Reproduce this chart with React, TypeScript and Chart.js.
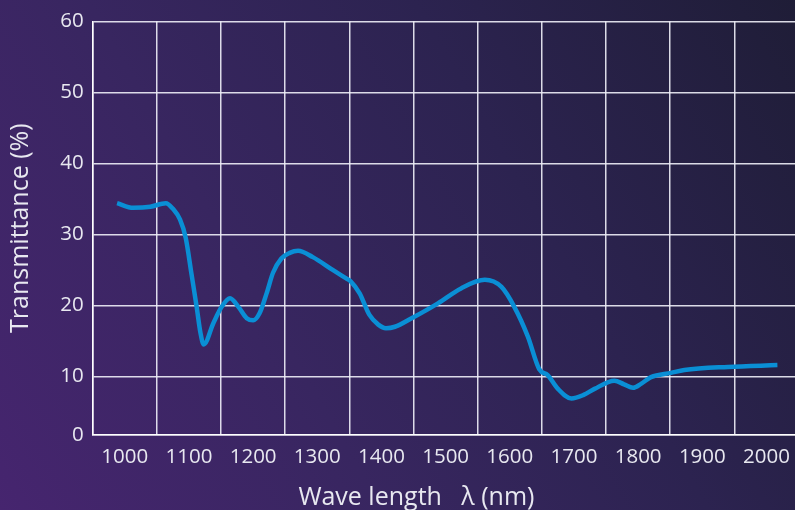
import React, { useEffect, useRef } from "react";
import { Chart, registerables } from "chart.js";

Chart.register(...registerables);

// Wavelength (nm) sample points
const wavelengths = [
  988, 1013, 1040, 1064, 1075, 1086, 1095, 1104, 1112, 1118, 1123,
  1138, 1151, 1164, 1177, 1190, 1200, 1210, 1221, 1231, 1244, 1257,
  1270, 1293, 1324, 1345, 1352, 1366, 1381, 1395, 1407, 1421, 1447,
  1488, 1524, 1561, 1587, 1607, 1628, 1646, 1659, 1675, 1696, 1715,
  1732, 1763, 1778, 1792, 1805, 1820, 1851, 1872, 1940, 2017,
];
// Transmittance (%) at those wavelengths
const transmittance = [
  34.4, 33.75, 33.9, 34.4, 33.6, 32.1, 29.5, 24.4, 19.8, 16.1, 14.5,
  17.5, 19.8, 21.0, 19.8, 18.2, 17.9, 18.9, 21.7, 24.6, 26.6, 27.4,
  27.7, 26.8, 25.0, 23.8, 23.4, 21.7, 18.7, 17.3, 16.8, 17.0, 18.2,
  20.3, 22.4, 23.6, 22.6, 19.8, 15.65, 11.0, 10.2, 8.25, 6.9, 7.4,
  8.25, 9.4, 8.9, 8.4, 9.0, 9.9, 10.5, 10.9, 11.35, 11.6,
];

const xGridTicks = [950, 1050, 1150, 1250, 1350, 1450, 1550, 1650, 1750, 1850, 1950, 2050];
const xLabelTicks = [1000, 1100, 1200, 1300, 1400, 1500, 1600, 1700, 1800, 1900, 2000];
const yTicks = [0, 10, 20, 30, 40, 50, 60];

const X_MIN = 950;
const X_MAX = 2050;
const Y_MIN = 1.76; // the drawn "0" line sits slightly above a true zero in the reference
const Y_MAX = 60;

const TEXT = "#e8e8f0";
const GRID = "rgba(240,240,248,0.9)";
const FONT = "'Open Sans', 'DejaVu Sans', sans-serif";

export default function App() {
  const ref = useRef<HTMLCanvasElement | null>(null);

  useEffect(() => {
    if (!ref.current) return;
    const chart = new Chart(ref.current, {
      type: "line",
      data: {
        datasets: [
          {
            data: wavelengths.map((w, i) => ({ x: w, y: transmittance[i] })),
            borderColor: "#0a8fd5",
            borderWidth: 4.5,
            pointRadius: 0,
            fill: false,
            cubicInterpolationMode: "monotone",
            xAxisID: "x",
            yAxisID: "y",
          },
        ],
      },
      options: {
        animation: false,
        responsive: true,
        maintainAspectRatio: false,
        layout: { padding: { top: 15, left: 0, right: 0, bottom: 0 } },
        plugins: { legend: { display: false }, tooltip: { enabled: false } },
        scales: {
          x: {
            type: "linear",
            position: "bottom",
            weight: 0,
            min: X_MIN,
            max: X_MAX,
            afterBuildTicks: (s: any) => {
              s.ticks = xGridTicks.map((v) => ({ value: v }));
            },
            afterFit: (s: any) => {
              s.height = 0;
            },
            ticks: { display: false },
            grid: { color: GRID, lineWidth: 1.5, drawTicks: false },
            border: { display: true, color: "#ffffff", width: 1.5 },
          },
          x2: {
            type: "linear",
            position: "bottom",
            weight: 1,
            min: X_MIN,
            max: X_MAX,
            afterBuildTicks: (s: any) => {
              s.ticks = xLabelTicks.map((v) => ({ value: v }));
            },
            afterFit: (s: any) => {
              s.height = 75;
            },
            grid: { display: false, drawTicks: false },
            border: { display: false },
            ticks: {
              color: TEXT,
              font: { family: FONT, size: 20.5 },
              padding: 10,
              maxRotation: 0,
              autoSkip: false,
              callback: (v: any) => String(v),
            },
            title: {
              display: true,
              text: "Wave length   λ (nm)         ",
              color: TEXT,
              font: { family: FONT, size: 25, lineHeight: 1 },
              padding: 0,
            },
          },
          y: {
            type: "linear",
            position: "left",
            min: Y_MIN,
            max: Y_MAX,
            afterBuildTicks: (s: any) => {
              s.ticks = yTicks.map((v) => ({ value: v === 0 ? Y_MIN : v }));
            },
            afterFit: (s: any) => {
              s.width = 92.7;
            },
            grid: { color: GRID, lineWidth: 1.5, drawTicks: false },
            border: { display: true, color: "#ffffff", width: 1.5 },
            ticks: {
              color: TEXT,
              font: { family: FONT, size: 20.5 },
              padding: 9,
              callback: (v: any) => (Number(v) < 5 ? "0" : String(v)),
            },
            title: {
              display: true,
              text: "Transmittance (%)",
              color: TEXT,
              font: { family: FONT, size: 25, lineHeight: 1 },
              padding: { top: 8, bottom: 0 },
            },
          },
        },
      },
    });
    return () => chart.destroy();
  }, []);

  return (
    <div
      style={{
        position: "fixed",
        left: 0,
        top: 0,
        width: 795,
        height: 510,
        overflow: "hidden",
        background:
          "linear-gradient(60deg, #46256f 0%, #382660 35%, #2c2350 65%, #1f1d37 100%)",
      }}
    >
      <div style={{ position: "absolute", left: 0, top: 0, width: 800, height: 510 }}>
        <canvas ref={ref} />
      </div>
    </div>
  );
}
